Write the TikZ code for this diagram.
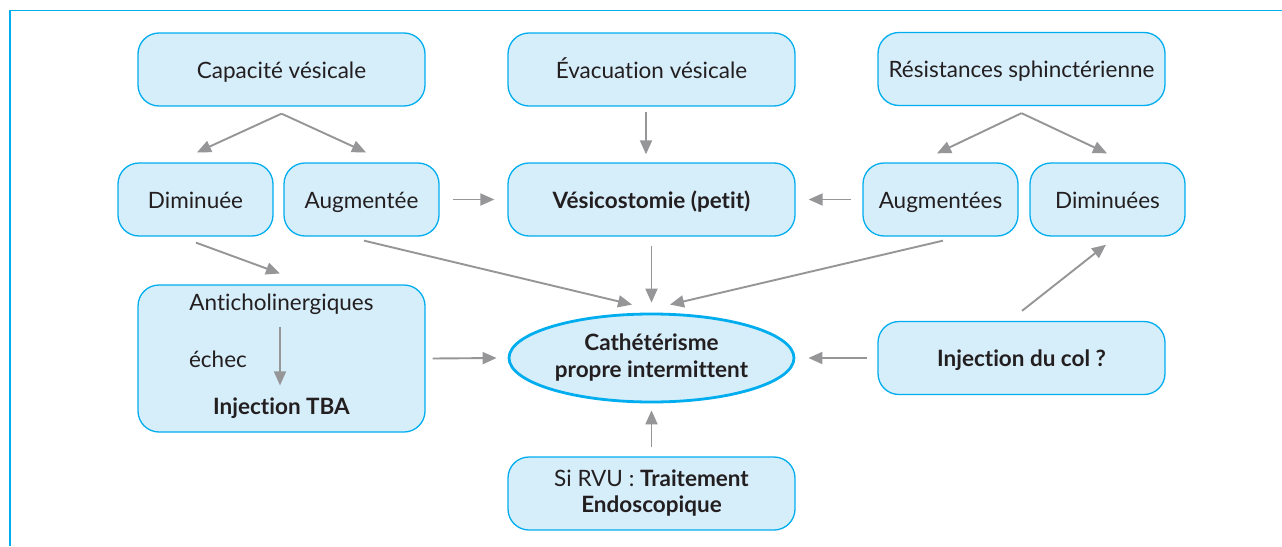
\documentclass[tikz,border=0pt]{standalone}
\usepackage{fontspec}
\setmainfont{Lato}[Ligatures=NoCommon]
\usetikzlibrary{shapes.geometric,arrows.meta,calc}
\definecolor{frameC}{RGB}{0,174,239}
\definecolor{fillC}{RGB}{214,237,250}
\definecolor{txtC}{RGB}{35,31,32}
\definecolor{arrC}{RGB}{150,150,152}
\tikzset{
  boxbase/.style={rectangle, rounded corners=21pt, draw=frameC, fill=fillC, line width=1.3pt,
    minimum width=287pt, minimum height=73pt, inner sep=0pt, align=center, text=txtC,
    font=\fontsize{22.5}{26}\selectfont},
  box/.style={boxbase, text height=17pt, text depth=0pt},
  sbox/.style={box, minimum width=155pt},
  plain/.style={inner sep=0pt, align=center, text=txtC, font=\fontsize{22.5}{26}\selectfont},
  arr/.style={draw=arrC, line width=1.9pt, -{Triangle[length=14pt,width=12pt]}},
}
\begin{document}
\begin{tikzpicture}[x=1pt,y=-1pt]
\useasboundingbox (0,0) rectangle (1282,546);
\fill[white] (0,0) rectangle (1282,546);
\draw[frameC, line width=1.6pt] (10,546) -- (10,10.5) -- (1282,10.5);

\node[box] (cap) at (281.5,69.5) {Capacité vésicale};
\node[box] (evac) at (651.5,69.5) {Évacuation vésicale};
\node[box] (res) at (1021.5,69) {Résistances sphinctérienne};

\node[sbox] (dim) at (195.5,199.5) {Diminuée};
\node[sbox] (aug) at (361.5,199.5) {Augmentée};
\node[box] (vesi) at (651.5,199.5) {\bfseries Vésicostomie (petit)};
\node[sbox] (augs) at (940.5,199.5) {Augmentées};
\node[sbox] (dims) at (1107.5,199.5) {Diminuées};

\node[boxbase, minimum height=147pt] (anti) at (281.5,358.5) {};
\node[plain] (antitxt) at (281.5,304) {Anticholinergiques};
\node[plain] (echec) at (218,359) {échec};
\node[plain] (tba) at (281.5,408) {\bfseries Injection TBA};

\node[ellipse, draw=frameC, fill=fillC, line width=2.8pt, minimum width=285pt, minimum height=88pt,
  inner sep=0pt, align=center, text=txtC, font=\fontsize{22.5}{27}\selectfont\bfseries] (cpi) at (651.5,358)
  {Cathétérisme\\propre intermittent};

\node[box] (col) at (1021.5,358) {\bfseries Injection du col ?};
\node[boxbase] (rvu) at (651.5,493.5) {Si RVU : \textbf{Traitement}\\\textbf{Endoscopique}};

% arrows
\draw[arr] ($(cap.south)+(0,7)$) -- ($(dim.north)+(1.5,-10)$);
\draw[arr] ($(cap.south)+(0,7)$) -- ($(aug.north)+(4.5,-10)$);
\draw[arr] ($(evac.south)+(-5.5,5)$) -- ($(vesi.north)+(-5.5,-8)$);
\draw[arr] ($(res.south)+(0,7)$) -- ($(augs.north)+(-3.5,-9)$);
\draw[arr] ($(res.south)+(0,7)$) -- ($(dims.north)+(-0.5,-9)$);
\draw[arr] ($(aug.east)+(13,0)$) -- ($(vesi.west)+(-13,0)$);
\draw[arr] ($(augs.west)+(-11,0)$) -- ($(vesi.east)+(13,0)$);
\draw[arr] ($(dim.south)+(0.5,6)$) -- ($(antitxt.north)+(-1.5,-20)$);
\draw[arr] ($(aug.south)+(2.5,4)$) -- ($(cpi.north)+(-19.5,-8)$);
\draw[arr] ($(vesi.south)+(0,9)$) -- ($(cpi.north)+(0,-10)$);
\draw[arr] ($(augs.south)+(2.5,4)$) -- ($(cpi.north)+(18.5,-8)$);
\draw[arr] ($(col.north)+(0.5,-10)$) -- ($(dims.south)+(-1.5,8)$);
\draw[arr] ($(anti.east)+(7,0)$) -- ($(cpi.west)+(-11,0)$);
\draw[arr] ($(col.west)+(-10,0)$) -- ($(cpi.east)+(13,0)$);
\draw[arr] ($(rvu.north)+(0,-9)$) -- ($(cpi.south)+(0,7)$);
\draw[arr, line width=1.7pt] ($(antitxt.south)+(-1.5,12)$) -- ($(tba.north)+(-1.5,-12)$);
\end{tikzpicture}
\end{document}
